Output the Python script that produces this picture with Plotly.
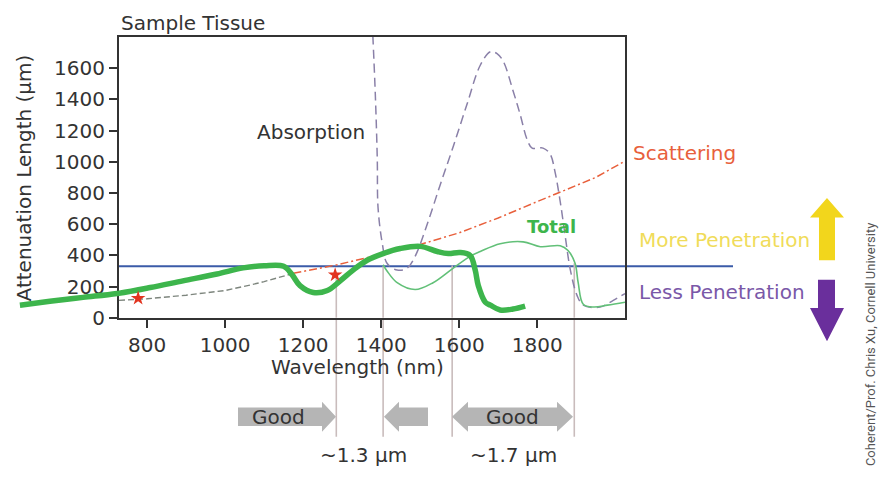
import plotly.graph_objects as go

W, H = 879, 477

# ---------------- data ----------------
total_x = [474, 551, 636, 723, 808, 892, 979, 1046, 1100, 1150, 1172, 1192, 1226, 1262,
           1295, 1328, 1364, 1405, 1449, 1500, 1544, 1572, 1602, 1628, 1641, 1649, 1667,
           1680, 1705, 1738, 1769]
total_y = [81, 106, 131, 156, 194, 237, 281, 320, 333, 330, 275, 206, 162, 175,
           237, 306, 369, 412, 444, 458, 425, 412, 419, 400, 306, 206, 100,
           81, 50, 56, 75]

thin_x = [1405, 1415, 1441, 1487, 1533, 1585, 1628, 1654, 1705, 1764, 1808, 1859, 1879,
          1897, 1905, 1918, 1944, 1980, 2025]
thin_y = [340, 300, 225, 181, 225, 319, 394, 425, 475, 487, 456, 462, 431,
          350, 225, 87, 69, 81, 100]

abs_x = [1377, 1385, 1390, 1392, 1403, 1415, 1441, 1467, 1487, 1518, 1551, 1585, 1620,
         1654, 1680, 1697, 1713, 1738, 1756, 1774, 1787, 1815, 1833, 1846, 1859, 1872,
         1885, 1902, 1918, 1961, 1995, 2025]
abs_y = [1900, 1431, 1019, 706, 475, 350, 306, 319, 394, 600, 850, 1100, 1369,
         1619, 1706, 1694, 1644, 1456, 1306, 1144, 1088, 1088, 1050, 931, 744, 519,
         306, 144, 81, 69, 112, 155]

scat_x = [728, 800, 900, 1000, 1064, 1100, 1175, 1287, 1380, 1500, 1600, 1700, 1800,
          1860, 1950, 2025]
scat_y = [112, 122, 145, 175, 210, 232, 285, 340, 395, 470, 545, 640, 745,
          805, 900, 1005]
scat_split = 6  # index where the grey segment turns into the orange dash-dot

star_x = [777, 1282]
star_y = [125, 275]

threshold = 330
window_edges = [1285, 1405, 1582, 1895]
edge_tops = [275, 330, 335, 350]

x_ticks = [800, 1000, 1200, 1400, 1600, 1800]
y_ticks = [0, 200, 400, 600, 800, 1000, 1200, 1400, 1600]

# ---------------- layout helpers (pixel -> paper) ----------------
def px(x):
    return x / W

def py(y):
    return 1 - y / H

def path(pts):
    return "M " + " L ".join(f"{px(a):.5f},{py(b):.5f}" for a, b in pts) + " Z"

FONT = "DejaVu Sans"
TXT = "#333333"

X0, X1 = 119, 625
Y0, Y1 = 326, 38
xdom = [px(X0), px(X1)]
ydom = [py(Y0), py(Y1)]
xrange_main = [728, 2025]
scale = (X1 - X0) / (xrange_main[1] - xrange_main[0])
xrange_left = [xrange_main[0] - (X0 - 15) / scale, xrange_main[0]]

fig = go.Figure()

# scattering
fig.add_trace(go.Scatter(x=scat_x[:scat_split + 1], y=scat_y[:scat_split + 1], mode="lines",
                         line=dict(color="#7d857d", width=1.4, dash="6px,3px"),
                         hoverinfo="skip"))
fig.add_trace(go.Scatter(x=scat_x[scat_split:], y=scat_y[scat_split:], mode="lines",
                         line=dict(color="#e8603c", width=1.5, dash="8px,3px,2px,3px"),
                         hoverinfo="skip"))
# absorption
fig.add_trace(go.Scatter(x=abs_x, y=abs_y, mode="lines", line_shape="spline",
                         line=dict(color="#8a80a8", width=1.5, dash="9px,5px"),
                         hoverinfo="skip"))
# thin total
fig.add_trace(go.Scatter(x=thin_x, y=thin_y, mode="lines", line_shape="spline",
                         line=dict(color="#62c078", width=1.6), hoverinfo="skip"))
# thick total (main plot + left overflow)
for xa in ["x", "x2"]:
    fig.add_trace(go.Scatter(x=total_x, y=total_y, mode="lines", line_shape="spline",
                             line=dict(color="#3db54c", width=5.5), xaxis=xa, yaxis="y",
                             hoverinfo="skip"))
# stars
fig.add_trace(go.Scatter(x=star_x, y=star_y, mode="markers",
                         marker=dict(symbol="star", size=11, color="#e2341f"),
                         hoverinfo="skip"))

shapes = []
# threshold line (extends beyond plot to the right)
shapes.append(dict(type="line", xref="paper", yref="y", x0=px(X0), x1=px(733),
                   y0=threshold, y1=threshold, line=dict(color="#3b5ba8", width=2),
                   layer="below"))
# vertical window lines
for e, t in zip(window_edges, edge_tops):
    shapes.append(dict(type="line", xref="x", yref="y", x0=e, x1=e, y0=0, y1=t,
                       line=dict(color="#c9bcbc", width=1.6), layer="below"))
    shapes.append(dict(type="line", xref="x", yref="paper", x0=e, x1=e,
                       y0=py(448), y1=py(Y0), line=dict(color="#c9bcbc", width=1.6),
                       layer="below"))

# grey block arrows
G = "#b5b5b5"
yc, bh, hh = 427.5, 9.5, 15.5
shapes.append(dict(type="path", xref="paper", yref="paper", fillcolor=G, line=dict(width=0),
                   path=path([(238, yc - bh), (322, yc - bh), (322, yc - hh), (336, yc),
                              (322, yc + hh), (322, yc + bh), (238, yc + bh)])))
shapes.append(dict(type="path", xref="paper", yref="paper", fillcolor=G, line=dict(width=0),
                   path=path([(384, yc), (399, yc - hh), (399, yc - bh), (428, yc - bh),
                              (428, yc + bh), (399, yc + bh), (399, yc + hh)])))
shapes.append(dict(type="path", xref="paper", yref="paper", fillcolor=G, line=dict(width=0),
                   path=path([(452, yc), (468, yc - hh), (468, yc - bh), (557, yc - bh),
                              (557, yc - hh), (573, yc), (557, yc + hh), (557, yc + bh),
                              (468, yc + bh), (468, yc + hh)])))
# yellow / purple arrows
shapes.append(dict(type="path", xref="paper", yref="paper", fillcolor="#f2d61c",
                   line=dict(width=0),
                   path=path([(827, 203), (844, 223), (835, 223), (835, 267), (819, 267),
                              (819, 223), (810, 223)])))
shapes.append(dict(type="path", xref="paper", yref="paper", fillcolor="#6a2f9c",
                   line=dict(width=0),
                   path=path([(818, 287), (835, 287), (835, 316), (844, 316), (827, 350),
                              (810, 316), (818, 316)])))

ann = []
def A(text, x, y, size=20, color=TXT, xanchor="center", angle=0, bold=False, family=FONT):
    ann.append(dict(text=f"<b>{text}</b>" if bold else text, x=px(x), y=py(y),
                    xref="paper", yref="paper", showarrow=False, xanchor=xanchor,
                    yanchor="middle", textangle=angle,
                    font=dict(family=family, size=size, color=color)))

A("Sample Tissue", 119, 24, xanchor="left")
A("Absorption", 367, 135, xanchor="right")
A("Total", 551, 232, size=18, color="#3db54c", bold=True)
A("Scattering", 631, 157, color="#e8603c", xanchor="left")
A("More Penetration", 637, 246, color="#f0dc5a", xanchor="left")
A("Less Penetration", 637, 300, color="#7a58a8", xanchor="left")
A("Wavelength (nm)", 357, 376)
A("Attenuation Length (µm)", 24, 183, angle=-90)
A("Good", 278, 428)
A("Good", 512, 428)
A("~1.3 µm", 363, 467)
A("~1.7 µm", 513, 467)
A("Coherent/Prof. Chris Xu, Cornell University", 870, 353, size=13, color="#555555",
  angle=-90, family="Roboto")

axis_common = dict(showline=True, linecolor="#333333", linewidth=2, mirror=True,
                   ticks="outside", ticklen=8, tickwidth=2, tickcolor="#333333",
                   showgrid=False, zeroline=False,
                   tickfont=dict(family=FONT, size=20, color=TXT))

fig.update_layout(
    width=W, height=H, margin=dict(l=0, r=0, t=0, b=0),
    paper_bgcolor="white", plot_bgcolor="rgba(0,0,0,0)", showlegend=False,
    xaxis=dict(domain=xdom, range=xrange_main, tickvals=x_ticks, anchor="y",
               **axis_common),
    yaxis=dict(domain=ydom, range=[0, 1800], tickvals=y_ticks, anchor="x",
               **axis_common),
    xaxis2=dict(domain=[px(15), px(X0)], range=xrange_left, visible=False, anchor="y"),
    shapes=shapes, annotations=ann,
)

fig.write_html("out.html", config={"displayModeBar": False},
               post_script="document.body.style.margin='0';"
                           "document.body.style.overflow='hidden';")
